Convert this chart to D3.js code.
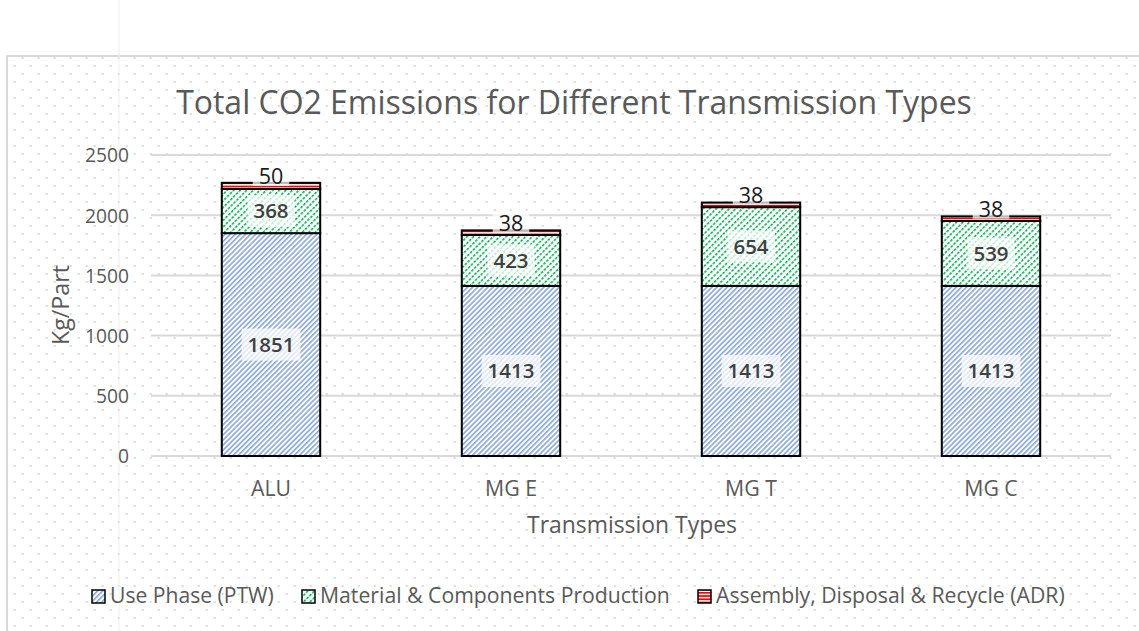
<!DOCTYPE html>
<html><head><meta charset="utf-8">
<script src="https://cdn.jsdelivr.net/npm/d3@7"></script>
<style>body{margin:0;background:#fff;} svg{display:block;}</style>
</head><body>
<svg id="c" width="1139" height="631"></svg>
<script>
const categories = ["ALU", "MG E", "MG T", "MG C"];
const seriesNames = ["Use Phase (PTW)", "Material & Components Production", "Assembly, Disposal & Recycle (ADR)"];
const usePhase = [1851, 1413, 1413, 1413];
const materialProd = [368, 423, 654, 539];
const adr = [50, 38, 38, 38];
const yTicks = [0, 500, 1000, 1500, 2000, 2500];
const titleText = "Total CO2 Emissions for Different Transmission Types";
const xTitle = "Transmission Types";
const yTitle = "Kg/Part";

const svg = d3.select("#c");
const FONT = "'Open Sans', 'Noto Sans', sans-serif";
const defs = svg.append("defs");

function fitW(t, w){ const fs=+t.attr("font-size"); const cw=t.node().getComputedTextLength(); t.attr("font-size", fs*w/cw); }

// dotted background
const dp = defs.append("pattern").attr("id","dots").attr("patternUnits","userSpaceOnUse")
  .attr("width",16).attr("height",16);
dp.append("rect").attr("x",13.7).attr("y",1).attr("width",2).attr("height",2).attr("fill","#dadada");
dp.append("rect").attr("x",5.7).attr("y",9).attr("width",2).attr("height",2).attr("fill","#dadada");

// blue diagonal stripes
const pb = defs.append("pattern").attr("id","pBlue").attr("patternUnits","userSpaceOnUse")
  .attr("width",3.6).attr("height",10).attr("patternTransform","rotate(45)");
pb.append("rect").attr("width",3.6).attr("height",10).attr("fill","#ffffff");
pb.append("rect").attr("width",1.7).attr("height",10).attr("fill","#8faadc");

// green dashed diagonal stripes
const pg = defs.append("pattern").attr("id","pGreen").attr("patternUnits","userSpaceOnUse")
  .attr("width",4.6).attr("height",4).attr("patternTransform","rotate(45)");
pg.append("rect").attr("width",4.6).attr("height",4).attr("fill","#ffffff");
pg.append("rect").attr("width",1.6).attr("height",2.6).attr("fill","#00b050");

// red horizontal stripes
const pr = defs.append("pattern").attr("id","pRed").attr("patternUnits","userSpaceOnUse")
  .attr("width",10).attr("height",3.2);
pr.append("rect").attr("width",10).attr("height",3.2).attr("fill","#ffffff");
pr.append("rect").attr("width",10).attr("height",1.7).attr("fill","#ff0000");

const fills = ["url(#pBlue)","url(#pGreen)","url(#pRed)"];

// chart frame
svg.append("rect").attr("x",7).attr("y",56).attr("width",1140).attr("height",600)
  .attr("fill","url(#dots)").attr("stroke","#d9d9d9").attr("stroke-width",2);
svg.append("line").attr("x1",119).attr("x2",119).attr("y1",0).attr("y2",631)
  .attr("stroke","#eeeeee").attr("stroke-width",1);

const x = d3.scaleBand().domain(categories).range([151,1111]).paddingInner(0.59).paddingOuter(0.295);
const y = d3.scaleLinear().domain([0,2500]).range([456,155]);

// gridlines
svg.append("g").selectAll("line").data(yTicks).join("line")
  .attr("x1",151).attr("x2",1111).attr("y1",d=>y(d)).attr("y2",d=>y(d))
  .attr("stroke","#d9d9d9").attr("stroke-width",2);

// y axis
const ya = svg.append("g").attr("transform","translate(129,0)")
  .call(d3.axisLeft(y).tickValues(yTicks).tickSize(0).tickPadding(0).tickFormat(d3.format("d")));
ya.select(".domain").remove();
ya.selectAll("text").attr("font-family",FONT).attr("font-size",18).attr("fill","#595959").attr("dy","0.36em");
{ const t = ya.selectAll("text").filter(d=>d===2500); const fs=18*44/t.node().getComputedTextLength();
  ya.selectAll("text").attr("font-size",fs); }

// x axis
const xa = svg.append("g").attr("transform","translate(0,481)")
  .call(d3.axisBottom(x).tickSize(0).tickPadding(0));
xa.select(".domain").remove();
xa.selectAll("text").attr("font-family",FONT).attr("font-size",18).attr("fill","#595959").attr("dy","0.71em");
{ const t = xa.selectAll("text").filter(d=>d==="MG E"); const fs=18*52/t.node().getComputedTextLength();
  xa.selectAll("text").attr("font-size",fs); }

// stack
const rows = categories.map((c,i)=>({cat:c, s0:usePhase[i], s1:materialProd[i], s2:adr[i]}));
const stack = d3.stack().keys(["s0","s1","s2"])(rows);

const bars = svg.append("g");
stack.forEach((layer,li)=>{
  bars.append("g").selectAll("rect").data(layer).join("rect")
    .attr("x",d=>x(d.data.cat)).attr("width",x.bandwidth())
    .attr("y",d=>y(d[1])).attr("height",d=>y(d[0])-y(d[1]))
    .attr("fill",fills[li]).attr("stroke","#000").attr("stroke-width",2);
});

// labels
const lab = svg.append("g");
stack.forEach((layer,li)=>{
  layer.forEach(d=>{
    const v = d[1]-d[0];
    const h = y(d[0])-y(d[1]);
    const small = h < 20;
    let cy = (y(d[0])+y(d[1]))/2;
    if (small) cy -= 9;
    const cx = x(d.data.cat)+x.bandwidth()/2;
    const g = lab.append("g");
    const t = g.append("text").attr("x",cx).attr("y",cy).attr("dy","0.35em")
      .attr("text-anchor","middle").attr("font-family",FONT).attr("font-weight",small?"500":"600")
      .attr("font-size",small?21.5:20.5).attr("fill",small?"#1a1a1a":"#404040").text(v);
    const bb = t.node().getBBox();
    g.insert("rect","text").attr("x",bb.x-6).attr("y",cy-(small?11:16)).attr("width",bb.width+12)
      .attr("height",small?20:32).attr("fill","#ffffff").attr("opacity",0.72);
  });
});

// title
const tt = svg.append("text").attr("x",574).attr("y",114).attr("text-anchor","middle")
  .attr("font-family",FONT).attr("font-size",30).attr("fill","#595959").text(titleText);
fitW(tt,796);

const xt = svg.append("text").attr("x",632).attr("y",533).attr("text-anchor","middle")
  .attr("font-family",FONT).attr("font-size",19).attr("fill","#595959").text(xTitle);
fitW(xt,210);
const yt = svg.append("text").attr("transform","translate(69,305) rotate(-90)").attr("text-anchor","middle")
  .attr("font-family",FONT).attr("font-size",19).attr("fill","#595959").text(yTitle);
fitW(yt,80);

// legend
const legX = [92, 302, 698];
const legTextW = [164, 350, 349];
seriesNames.forEach((n,i)=>{
  svg.append("rect").attr("x",legX[i]).attr("y",590).attr("width",13).attr("height",13)
    .attr("fill",fills[i]).attr("stroke","#000").attr("stroke-width",1.5);
  const t = svg.append("text").attr("x",legX[i]+18).attr("y",603)
    .attr("font-family",FONT).attr("font-size",19).attr("fill","#595959").text(n);
  fitW(t, legTextW[i]);
});
</script>
</body></html>
